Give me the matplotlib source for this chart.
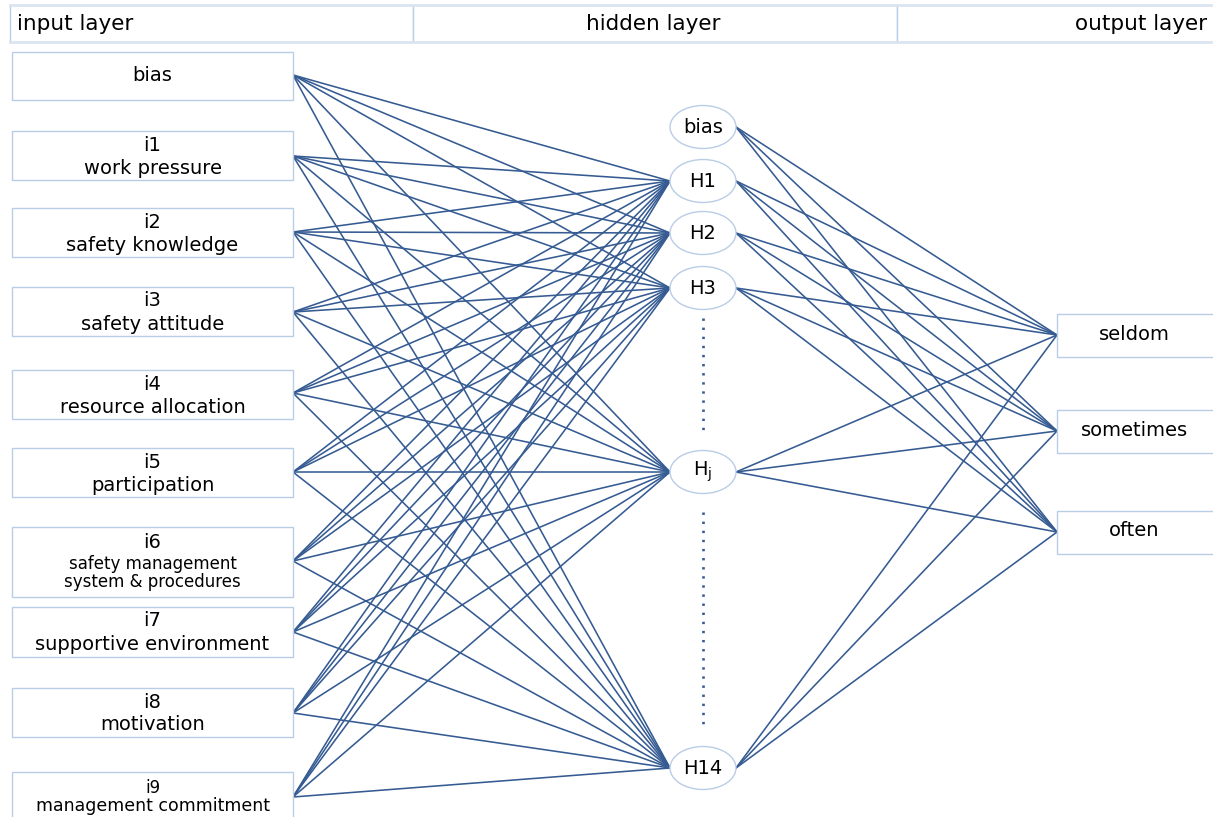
import matplotlib.pyplot as plt
from matplotlib.patches import Rectangle, Ellipse

# labels
header_labels = ['input layer', 'hidden layer', 'output layer']
input_ids = ['', 'i1', 'i2', 'i3', 'i4', 'i5', 'i6', 'i7', 'i8', 'i9']
input_names = ['bias', 'work pressure', 'safety knowledge', 'safety attitude',
               'resource allocation', 'participation',
               'safety management\nsystem & procedures',
               'supportive environment', 'motivation', 'management commitment']
hidden_labels = ['bias', 'H1', 'H2', 'H3', r'$\mathregular{H_j}$', 'H14']
output_labels = ['seldom', 'sometimes', 'often']

# layout (pixel coords, y down)
in_top = [52, 131, 208, 287, 370, 448, 527, 607, 688, 772]
in_bot = [100, 180, 257, 336, 419, 497, 597, 657, 737, 830]
in_anchor = [75, 156, 232, 312, 393, 472, 561, 632, 713, 797]
in_x0, in_x1 = 12, 293
hid_x, hid_w, hid_h = 703, 66, 43
hid_y = [127, 181, 233, 288, 472, 768]
out_x0, out_x1 = 1057, 1225
out_y = [335, 431, 532]
out_h = 43

line_c = '#355b92'
edge_c = '#b9cde6'

fig = plt.figure(figsize=(12.13, 8.17), dpi=100)
ax = fig.add_axes([0, 0, 1, 1])
ax.set_xlim(0, 1213)
ax.set_ylim(817, 0)
ax.axis('off')

# header
hx = [10, 413, 897, 1220]
for k in range(3):
    ax.add_patch(Rectangle((hx[k], 5), hx[k + 1] - hx[k], 37, fc='white',
                           ec=edge_c, lw=1.0, zorder=1))
ax.plot([10, 1213], [5, 5], color='#dbe5f1', lw=2, zorder=2)
ax.plot([10, 1213], [42, 42], color='#dbe5f1', lw=2, zorder=2)
ax.text(17, 24, header_labels[0], fontsize=15.5, ha='left', va='center')
ax.text(653, 24, header_labels[1], fontsize=15.5, ha='center', va='center')
ax.text(1207, 24, header_labels[2], fontsize=15.5, ha='right', va='center')

# connections input -> hidden (hidden bias gets no inputs)
for ya in in_anchor:
    for yh in hid_y[1:]:
        ax.plot([in_x1, hid_x - hid_w / 2], [ya, yh], color=line_c, lw=1.15, zorder=1)

# connections hidden -> output
for yh in hid_y:
    for yo in out_y:
        ax.plot([hid_x + hid_w / 2, out_x0], [yh, yo], color=line_c, lw=1.15, zorder=1)

# dotted continuation
ax.plot([hid_x, hid_x], [318, 436], color=line_c, lw=1.9, ls=(0, (0.9, 2.55)), zorder=1)
ax.plot([hid_x, hid_x], [512, 730], color=line_c, lw=1.9, ls=(0, (0.9, 2.55)), zorder=1)

# input boxes
for k in range(len(input_names)):
    t, b = in_top[k], in_bot[k]
    ax.add_patch(Rectangle((in_x0, t), in_x1 - in_x0, b - t, fc='white',
                           ec=edge_c, lw=1.0, zorder=3))
    cx = (in_x0 + in_x1) / 2
    if input_ids[k] == '':
        ax.text(cx, in_anchor[k], input_names[k], fontsize=14, ha='center', va='center', zorder=4)
    elif k == 6:
        ax.text(cx, t + 16, input_ids[k], fontsize=14, ha='center', va='center', zorder=4)
        ax.text(cx, t + 46, input_names[k], fontsize=12, ha='center', va='center',
                linespacing=1.05, zorder=4)
    elif k == 9:
        ax.text(cx, 788, input_ids[k], fontsize=12, ha='center', va='center', zorder=4)
        ax.text(cx, 806, input_names[k], fontsize=12.5, ha='center', va='center', zorder=4)
    else:
        ax.text(cx, t + 14, input_ids[k], fontsize=14, ha='center', va='center', zorder=4)
        ax.text(cx, t + 37, input_names[k], fontsize=14, ha='center', va='center', zorder=4)

# hidden nodes
for k, yh in enumerate(hid_y):
    ax.add_patch(Ellipse((hid_x, yh), hid_w, hid_h, fc='white', ec=edge_c, lw=1.0, zorder=3))
    ax.text(hid_x, yh, hidden_labels[k], fontsize=14, ha='center', va='center', zorder=4)

# output boxes
for k, yo in enumerate(out_y):
    ax.add_patch(Rectangle((out_x0, yo - out_h / 2), out_x1 - out_x0, out_h, fc='white',
                           ec=edge_c, lw=1.0, zorder=3))
    ax.text(1134, yo - 1, output_labels[k], fontsize=14, ha='center', va='center', zorder=4)

fig.savefig('out.png', dpi=100)
